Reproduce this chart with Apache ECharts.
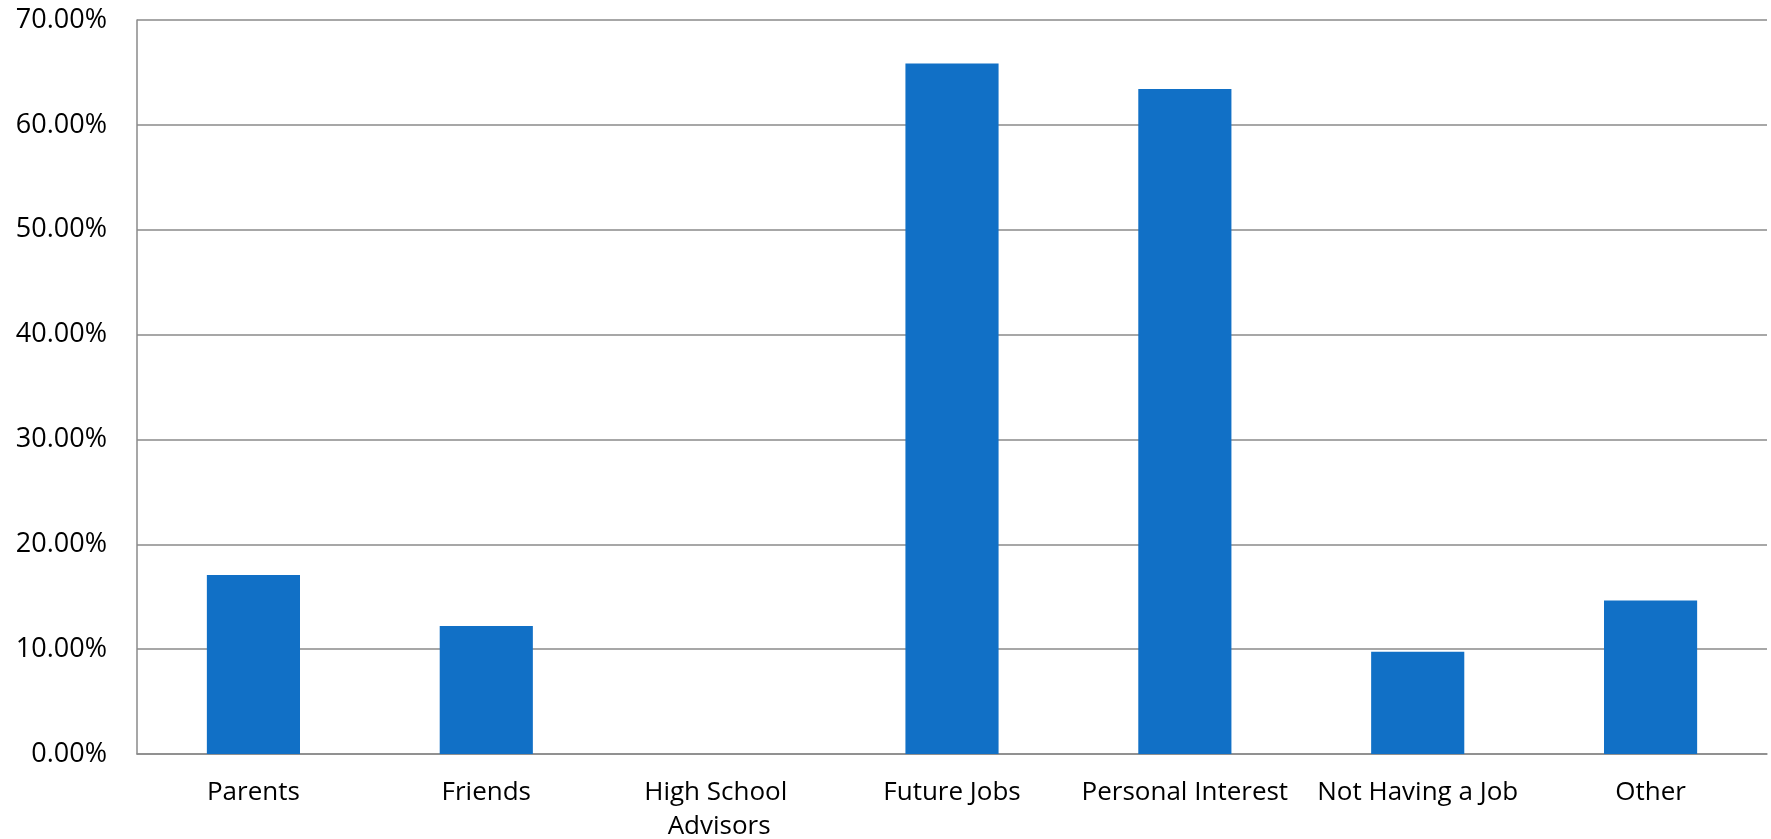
<!DOCTYPE html>
<html>
<head>
<meta charset="utf-8">
<script src="https://cdn.jsdelivr.net/npm/echarts@6/dist/echarts.min.js"></script>
<style>
  html, body { margin: 0; padding: 0; background: #ffffff; }
  #chart { width: 1771px; height: 839px; }
</style>
</head>
<body>
<div id="chart"></div>
<script>
// Reasons for choosing a major (share of respondents, %)
const categories = ['Parents', 'Friends', 'High School Advisors', 'Future Jobs', 'Personal Interest', 'Not Having a Job', 'Other'];
const shares = [17.07, 12.20, 0, 65.85, 63.41, 9.76, 14.63];
const yTicks = { min: 0, max: 70, interval: 10 };

const chart = echarts.init(document.getElementById('chart'));
const fontFamily = '"Open Sans", "Noto Sans", sans-serif';
const gridColor = '#8a8a8a';

chart.setOption({
  animation: false,
  grid: { left: 137, right: 4, top: 20, bottom: 85, containLabel: false, outerBoundsMode: 'none' },
  xAxis: {
    type: 'category',
    data: categories,
    axisLine: { show: true, lineStyle: { color: gridColor, width: 1.5 } },
    axisTick: { show: false },
    axisLabel: {
      interval: 0,
      color: '#000000',
      fontFamily: fontFamily,
      fontSize: 26,
      lineHeight: 34,
      margin: 22,
      width: 220,
      overflow: 'break'
    }
  },
  yAxis: {
    type: 'value',
    min: yTicks.min,
    max: yTicks.max,
    interval: yTicks.interval,
    axisLine: { show: true, lineStyle: { color: gridColor, width: 1.5 } },
    axisTick: { show: false },
    splitLine: { show: true, lineStyle: { color: gridColor, width: 1.5 } },
    axisLabel: {
      color: '#000000',
      fontFamily: fontFamily,
      fontSize: 27,
      margin: 30,
      formatter: v => v.toFixed(2) + '%'
    }
  },
  series: [{
    type: 'bar',
    data: shares,
    barWidth: '40%',
    itemStyle: { color: '#1170c6' }
  }]
});
</script>
</body>
</html>
